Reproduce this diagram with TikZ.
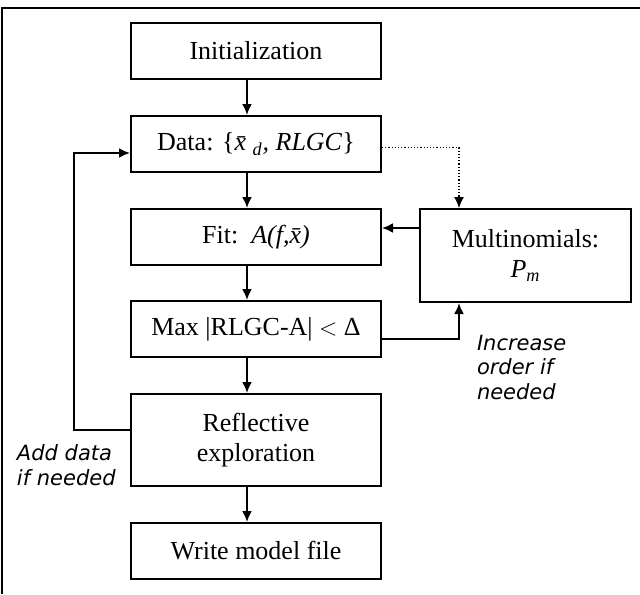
\documentclass[tikz,border=0pt]{standalone}
\usepackage{fontspec}
\usetikzlibrary{arrows.meta}
\setmainfont{Liberation Serif}
\newfontfamily\notefont{DejaVu Sans}
\begin{document}
\begin{tikzpicture}[x=0.5pt,y=-0.5pt,line width=1pt,
  stage/.style={draw,minimum width=125pt,minimum height=28pt,inner sep=2pt,align=center,font=\fontsize{13}{15}\selectfont},
  note/.style={anchor=north west,inner sep=0pt,align=left,font=\notefont\itshape\fontsize{10.5}{12.2}\selectfont},
  arr/.style={-{Latex[length=5.5pt,width=5pt]}}]

\useasboundingbox (0,0) rectangle (640,594);
\draw (640,8) -- (2,8) -- (2,594);

\node[stage] (init) at (256,51) {Initialization};
\node[stage] (data) at (256,144) {Data: \{\textit{\=x}\textsubscript{\textit{d}}\textit{, RLGC}\}};
\node[stage] (fit) at (256,237) {Fit:\ \ \textit{A(f,\=x)}};
\node[stage] (maxd) at (256,329) {Max |RLGC-A| $<$ \symbol{"0394}};
\node[stage,minimum width=105.5pt,minimum height=46.5pt] (multi) at (525.5,255.5) {Multinomials:\\\textit{P}\textsubscript{\textit{m}}};
\node[stage,minimum height=46pt] (refl) at (256,440) {Reflective\\exploration};
\node[stage] (write) at (256,551) {Write model file};

\coordinate (loop) at (74,0);
\coordinate (side) at (459,0);

\draw[arr] ([xshift=-4.5pt]init.south) -- ([xshift=-4.5pt]data.north);
\draw[arr] ([xshift=-4.5pt]data.south) -- ([xshift=-4.5pt]fit.north);
\draw[arr] ([xshift=-4.5pt]fit.south) -- ([xshift=-4.5pt]maxd.north);
\draw[arr] ([xshift=-4.5pt]maxd.south) -- ([xshift=-4.5pt]refl.north);
\draw[arr] ([xshift=-4.5pt]refl.south) -- ([xshift=-4.5pt]write.north);

\draw[arr] ([yshift=5pt]refl.west) -| ([yshift=-4.5pt]data.west -| loop) -- ([yshift=-4.5pt]data.west);
\draw[arr,densely dotted,line width=0.6pt] ([yshift=-1.75pt]data.east) -| (multi.north -| side);
\draw[arr] ([yshift=4.5pt]fit.east -| multi.west) -- ([yshift=4.5pt]fit.east);
\draw[arr] ([yshift=-5pt]maxd.east) -| (multi.south -| side);

\node[note] (incr) at (476,334) {Increase\\order if\\needed};
\node[note] (add) at (16,444) {Add data\\if needed};

\end{tikzpicture}
\end{document}
